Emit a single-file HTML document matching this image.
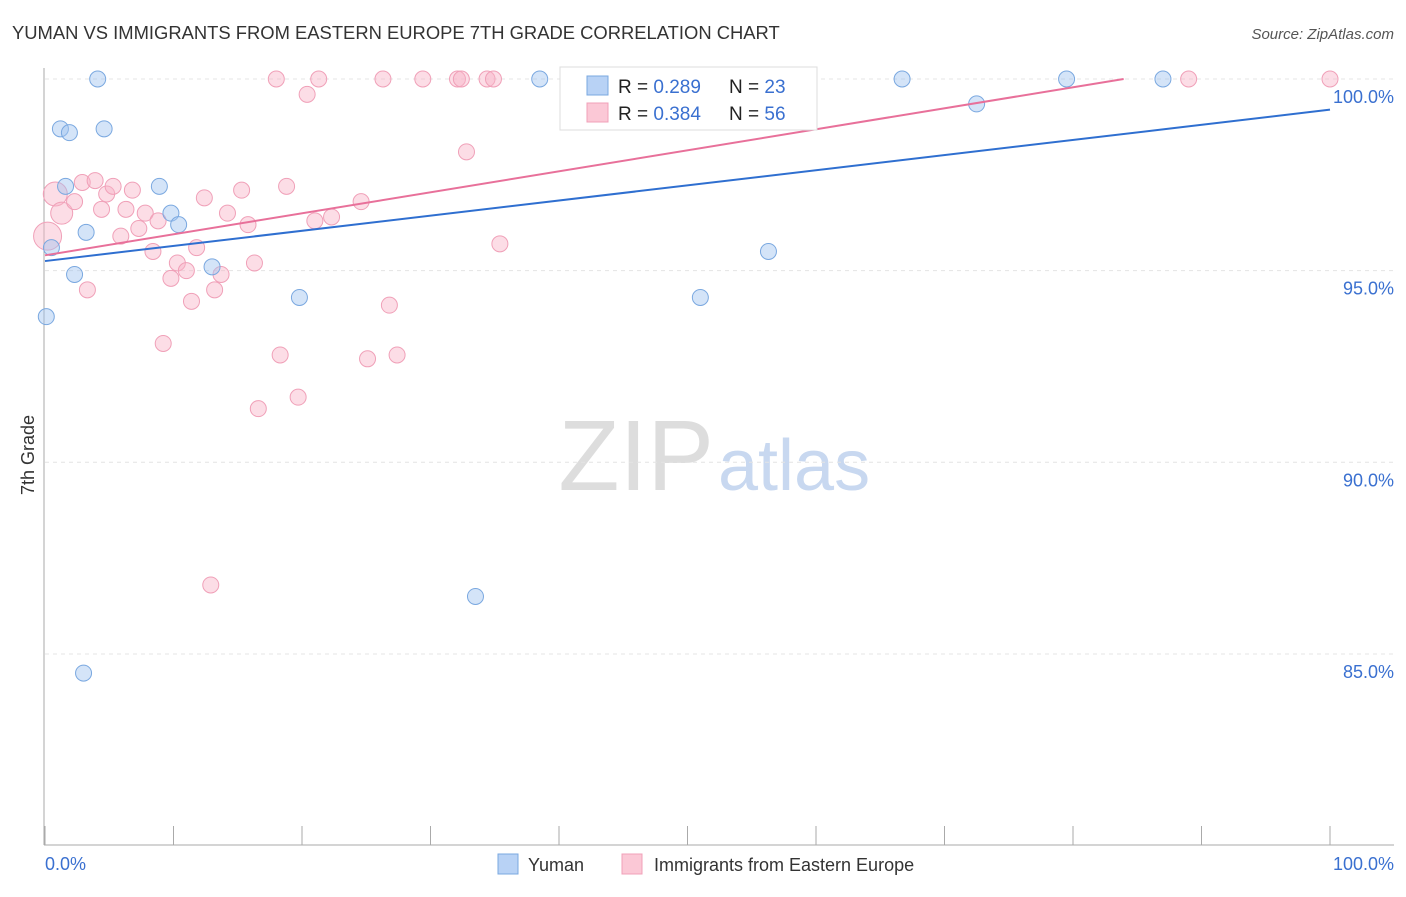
<!DOCTYPE html>
<html><head><meta charset="utf-8"><style>
body{margin:0;background:#fff;font-family:"Liberation Sans",sans-serif;}
svg text{font-family:"Liberation Sans",sans-serif;}
</style></head><body>
<svg id="chart" width="1406" height="892" xmlns="http://www.w3.org/2000/svg">
<text x="12" y="39" font-size="18.4" fill="#333">YUMAN VS IMMIGRANTS FROM EASTERN EUROPE 7TH GRADE CORRELATION CHART</text>
<text x="1394" y="39" font-size="15" fill="#555" text-anchor="end" font-style="italic">Source: ZipAtlas.com</text>
<text x="714" y="490" font-size="100" fill="#ddd" text-anchor="end" font-family="Liberation Serif">ZIP</text>
<text x="718" y="490" font-size="72" fill="#c8d8f0">atlas</text>
<g id="grid"></g><g id="pts"></g><g id="lines"></g>
<text x="34" y="455" font-size="18" fill="#333" transform="rotate(-90 34 455)" text-anchor="middle">7th Grade</text>
<text x="45" y="870" font-size="18" fill="#3a70d0">0.0%</text>
<text x="1394" y="870" font-size="18" fill="#3a70d0" text-anchor="end">100.0%</text>
<g>
<rect x="560" y="67" width="257" height="63" fill="#fff" stroke="#ddd"/>
<rect x="587" y="76" width="21" height="19" fill="#b8d2f5" stroke="#7aa8e0"/>
<rect x="587" y="103" width="21" height="19" fill="#fbc8d6" stroke="#f0a0b8"/>
<text x="618" y="93" font-size="19" fill="#222">R = <tspan fill="#3a70d0">0.289</tspan></text>
<text x="729" y="93" font-size="19" fill="#222">N = <tspan fill="#3a70d0">23</tspan></text>
<text x="618" y="120" font-size="19" fill="#222">R = <tspan fill="#3a70d0">0.384</tspan></text>
<text x="729" y="120" font-size="19" fill="#222">N = <tspan fill="#3a70d0">56</tspan></text>
</g>
<g>
<rect x="498" y="854" width="20" height="20" fill="#b8d2f5" stroke="#7aa8e0"/>
<text x="528" y="871" font-size="18" fill="#333">Yuman</text>
<rect x="622" y="854" width="20" height="20" fill="#fbc8d6" stroke="#f0a0b8"/>
<text x="654" y="871" font-size="18" fill="#333">Immigrants from Eastern Europe</text>
</g>
</svg>
<script>
const yTicks=[100,95,90,85];
const yumanX=[4.1,1.2,1.9,4.6,1.6,8.9,9.8,10.4,3.2,0.5,2.3,13.0,19.8,0.1,38.5,56.3,51.0,33.5,3.0,66.7,72.5,79.5,87.0];
const yumanY=[100,98.7,98.6,98.7,97.2,97.2,96.5,96.2,96.0,95.6,94.9,95.1,94.3,93.8,100,95.5,94.3,86.5,84.5,100,99.35,100,100];
const immX=[18.0,21.3,26.3,29.4,32.1,32.4,34.4,34.9,89.0,100,20.4,32.8,0.8,1.3,0.2,2.3,2.9,3.9,4.8,5.3,6.8,4.4,6.3,5.9,7.8,8.8,7.3,8.4,10.3,11.0,9.8,11.8,12.4,14.2,15.3,15.8,18.8,13.7,16.3,13.2,11.4,3.3,9.2,18.3,16.6,19.7,12.9,21.0,22.3,24.6,35.4,26.8,25.1,27.4];
const immY=[100,100,100,100,100,100,100,100,100,100,99.6,98.1,97.0,96.5,95.9,96.8,97.3,97.35,97.0,97.2,97.1,96.6,96.6,95.9,96.5,96.3,96.1,95.5,95.2,95.0,94.8,95.6,96.9,96.5,97.1,96.2,97.2,94.9,95.2,94.5,94.2,94.5,93.1,92.8,91.4,91.7,86.8,96.3,96.4,96.8,95.7,94.1,92.7,92.8];
const immR=[8,8,8,8,8,8,8,8,8,8,8,8,12,11,14];
const yumanLine=[95.25,99.2];
const immLine=[95.4,0.0548];
const NS='http://www.w3.org/2000/svg';
const sx=v=>45+v*12.85, sy=v=>79+(100-v)*38.33;
function mk(t,a,p){const e=document.createElementNS(NS,t);for(const k in a)e.setAttribute(k,a[k]);p.appendChild(e);return e;}
const g=document.getElementById('grid');
yTicks.forEach(t=>{const l=mk('line',{x1:45,x2:1394,y1:sy(t),y2:sy(t),stroke:'#e4e4e4','stroke-dasharray':'4,4'},g);


const tx=mk('text',{x:1394,y:sy(t)+24,'font-size':18,fill:'#3a70d0','text-anchor':'end'},g);tx.textContent=t.toFixed(1)+'%';

});
const ax=mk('line',{x1:44,x2:44,y1:68,y2:845,stroke:'#aaa'},g);


const bx=mk('line',{x1:44,x2:1394,y1:845,y2:845,stroke:'#aaa'},g);


for(let i=0;i<=10;i++){const t=mk('line',{x1:sx(i*10),x2:sx(i*10),y1:826,y2:845,stroke:'#aaa'},g);

}
const p=document.getElementById('pts');
immX.forEach((x,i)=>{const c=mk('circle',{cx:sx(x),cy:sy(immY[i]),r:immR[i]||8,fill:'rgba(248,180,200,0.45)',stroke:'#f0a0b8','stroke-width':1},p);

});
yumanX.forEach((x,i)=>{const c=mk('circle',{cx:sx(x),cy:sy(yumanY[i]),r:8,fill:'rgba(160,196,240,0.45)',stroke:'#7aa8e0','stroke-width':1},p);

});
const L=document.getElementById('lines');
const bl=mk('line',{x1:sx(0),y1:sy(yumanLine[0]),x2:sx(100),y2:sy(yumanLine[1]),stroke:'#2f6fd0','stroke-width':2},L);


const xe=(100-immLine[0])/immLine[1];
const pl=mk('line',{x1:sx(0),y1:sy(immLine[0]),x2:sx(xe),y2:sy(100),stroke:'#e8709a','stroke-width':2},L);


</script>
</body></html>
